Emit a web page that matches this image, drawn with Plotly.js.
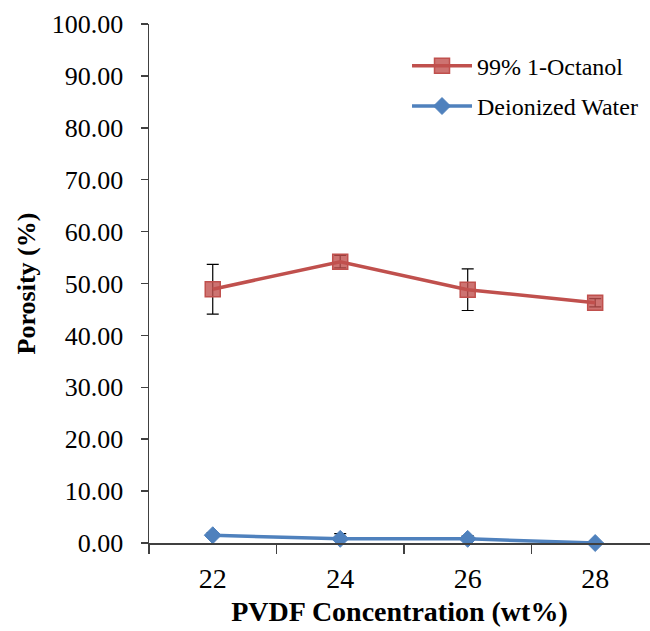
<!DOCTYPE html>
<html><head><meta charset="utf-8">
<script src="https://cdn.plot.ly/plotly-3.0.1.min.js"></script>
<style>body{margin:0;padding:0;background:#fff}#chart{width:650px;height:631px}</style>
</head><body><div id="chart"></div>
<script>
const concentrations = [22, 24, 26, 28];
const octanolPorosity = [48.9, 54.2, 48.8, 46.3];
const octanolError = [4.8, 1.2, 4.0, 0.8];
const waterPorosity = [1.5, 0.8, 0.8, 0.0];
const waterError = [0.5, 1.0, 0.6, 0.0];
const xTickLabels = ['22', '24', '26', '28'];

const serif = 'Liberation Serif, Times New Roman, serif';
const red = '#C0504D', blue = '#4F81BD';

const traces = [
  {
    x: concentrations, y: octanolPorosity, name: '99% 1-Octanol', legendgroup: 'a',
    mode: 'lines+markers', type: 'scatter', cliponaxis: false,
    line: {color: red, width: 3.5},
    marker: {symbol: 'square', size: 15, color: 'rgba(192,80,77,0.8)', line: {color: red, width: 1.5}},
    error_y: {type: 'data', array: octanolError, visible: true, color: '#000', thickness: 1.2, width: 6}
  },
  {
    x: concentrations, y: waterPorosity, name: 'Deionized Water', legendgroup: 'b',
    mode: 'lines+markers', type: 'scatter', cliponaxis: false,
    line: {color: blue, width: 3.5},
    marker: {symbol: 'diamond', size: 13, color: blue, line: {color: blue, width: 1}},
    error_y: {type: 'data', array: waterError, symmetric: false, arrayminus: [0,0,0,0], visible: true, color: '#000', thickness: 1.2, width: 6}
  }
];

const layout = {
  width: 650, height: 631,
  margin: {l: 149, r: 0, t: 24, b: 88},
  paper_bgcolor: '#fff', plot_bgcolor: '#fff',
  showlegend: true,
  legend: {x: 0.515, y: 0.962, xanchor: 'left', yanchor: 'top', font: {family: serif, size: 24, color: '#000'},
           bgcolor: 'rgba(0,0,0,0)', traceorder: 'grouped', tracegroupgap: 6, itemwidth: 60},
  xaxis: {
    range: [21, 28.86], tickvals: concentrations, ticktext: xTickLabels, ticks: '',
    ticklabelstandoff: 10,
    showgrid: false, zeroline: false, showline: true, linecolor: '#404040', linewidth: 1.5,
    tickfont: {family: serif, size: 28, color: '#000'},
    minor: {tickvals: [21, 23, 25, 27], ticks: 'outside', ticklen: 9, tickcolor: '#404040', tickwidth: 1.5, showgrid: false},
    title: {text: '<b>PVDF Concentration (wt%)</b>', font: {family: serif, size: 28, color: '#000'}, standoff: 8}
  },
  yaxis: {
    range: [0, 100], dtick: 10, tickformat: '.2f', ticks: 'outside', ticklen: 7, tickcolor: '#404040', tickwidth: 1.5,
    ticklabelstandoff: 12,
    showgrid: false, zeroline: false, showline: true, linecolor: '#404040', linewidth: 1.5,
    tickfont: {family: serif, size: 26, color: '#000'},
    title: {text: '<b>Porosity (%)</b>', font: {family: serif, size: 26, color: '#000'}, standoff: 8}
  }
};
Plotly.newPlot('chart', traces, layout, {displayModeBar: false, staticPlot: true});
</script></body></html>
